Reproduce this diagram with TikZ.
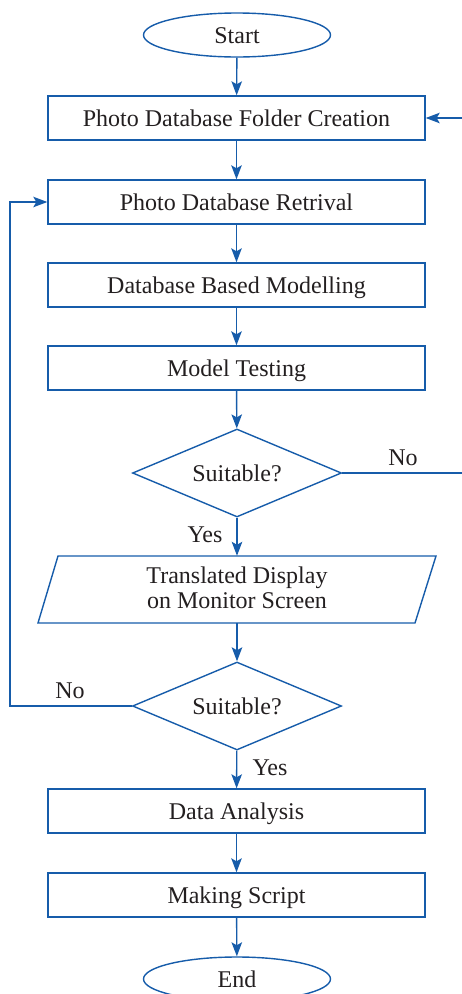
\documentclass[tikz,border=0pt]{standalone}
\usepackage{fontspec}
\setmainfont{Liberation Serif}
\newfontfamily\tnr{Liberation Serif}
\usetikzlibrary{shapes.geometric,arrows.meta}
\definecolor{fblue}{RGB}{22,92,170}
\definecolor{ftext}{RGB}{35,31,32}
\begin{document}
\begin{tikzpicture}[x=1pt,y=-1pt,
  every node/.style={text=ftext,font=\tnr\fontsize{24}{25}\selectfont,text height=16pt,text depth=0pt},
  term/.style={ellipse,draw=fblue,line width=1.4pt,inner sep=0pt,minimum width=187pt,minimum height=44pt},
  proc/.style={rectangle,draw=fblue,line width=1.4pt,inner sep=0pt,minimum width=377pt,minimum height=44pt},
  dec/.style={diamond,aspect=2.375,draw=fblue,line width=1.4pt,inner sep=0pt,minimum width=209pt,minimum height=88pt},
  iobox/.style={rectangle,draw=none,inner sep=0pt,minimum width=377pt,minimum height=67pt,align=center,text height=41pt,text depth=4pt},
  conn/.style={draw=fblue,line width=1.4pt,-{Stealth[length=14pt,width=10.5pt,inset=3pt]}},
  lbl/.style={inner sep=0pt}]
\useasboundingbox (0,0) rectangle (462,994);
\clip (0,0) rectangle (462,994);
\node[term] (start) at (237,35) {Start};
\node[proc] (b1) at (236.5,118) {Photo Database Folder Creation};
\node[proc] (b2) at (236.5,202) {Photo Database Retrival};
\node[proc] (b3) at (236.5,285) {Database Based Modelling};
\node[proc] (b4) at (236.5,368) {Model Testing};
\node[dec] (d1) at (237,473) {Suitable?};
\node[iobox] (disp) at (237,589.5) {Translated Display\\on Monitor Screen};
\draw[fblue,line width=1.4pt] (58,556) -- (436,556) -- (415,623) -- (38,623) -- cycle;
\node[dec] (d2) at (237,706) {Suitable?};
\node[proc] (b5) at (236.5,811) {Data Analysis};
\node[proc] (b6) at (236.5,895) {Making Script};
\node[term] (fin) at (237,979) {End};
\coordinate (r1) at (475,473);
\coordinate (r2) at (475,118);
\coordinate (l1) at (10,706);
\draw[conn] (start) -- (b1);
\draw[conn] (b1) -- (b2);
\draw[conn] (b2) -- (b3);
\draw[conn] (b3) -- (b4);
\draw[conn] (b4) -- (d1);
\draw[conn] (d1) -- (disp);
\draw[conn] (disp) -- (d2);
\draw[conn] (d2) -- (b5);
\draw[conn] (b5) -- (b6);
\draw[conn] (b6) -- (fin);
\draw[conn] (d1.east) -- (r1) -- (r2) -- (b1.east);
\draw[conn] (d2.west) -- (l1) |- (b2.west);
\node[lbl] (n1) at (403,457.5) {No};
\node[lbl] (y1) at (205,534.5) {Yes};
\node[lbl] (n2) at (70,690.5) {No};
\node[lbl] (y2) at (270,767.5) {Yes};
\end{tikzpicture}
\end{document}
